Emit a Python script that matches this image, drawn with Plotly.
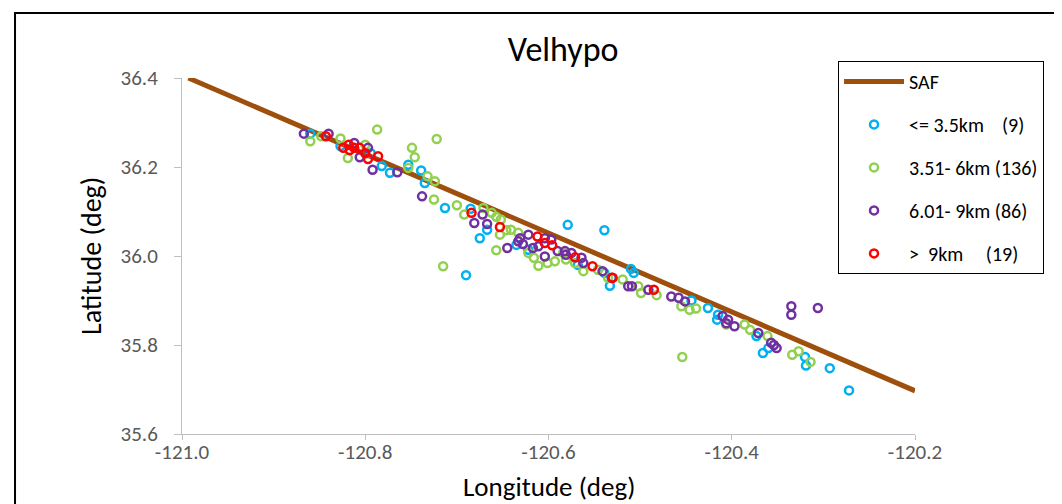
import plotly.graph_objects as go

# SAF trace (fault line)
saf_lon = [-120.993, -120.20]
saf_lat = [36.400, 35.697]

blue_lon = [-120.860, -120.827, -120.794, -120.782, -120.773, -120.753, -120.739, -120.735, -120.713,
            -120.685, -120.675, -120.667, -120.690, -120.635, -120.622, -120.579, -120.539, -120.568,
            -120.539, -120.533, -120.510, -120.507, -120.444, -120.426, -120.415, -120.416, -120.373,
            -120.360, -120.366, -120.320, -120.319, -120.293, -120.272]
blue_lat = [36.275, 36.247, 36.231, 36.202, 36.187, 36.205, 36.192, 36.164, 36.108,
            36.106, 36.040, 36.059, 35.957, 36.025, 36.014, 36.070, 36.058, 35.980,
            35.962, 35.933, 35.971, 35.962, 35.900, 35.883, 35.868, 35.857, 35.820,
            35.793, 35.782, 35.773, 35.754, 35.748, 35.698]

green_lon = [-120.860, -120.848, -120.827, -120.800, -120.819, -120.787, -120.753, -120.749, -120.746,
             -120.722, -120.732, -120.724, -120.725, -120.700, -120.692, -120.662, -120.657, -120.652,
             -120.653, -120.641, -120.633, -120.646, -120.657, -120.622, -120.616, -120.715, -120.593,
             -120.581, -120.571, -120.562, -120.546, -120.535, -120.519, -120.502, -120.499, -120.482,
             -120.455, -120.446, -120.439, -120.406, -120.386, -120.380, -120.361, -120.334, -120.327,
             -120.314, -120.454, -120.671, -120.601, -120.611, -120.584]
green_lat = [36.258, 36.269, 36.264, 36.250, 36.220, 36.284, 36.198, 36.243, 36.222,
             36.263, 36.179, 36.168, 36.127, 36.114, 36.093, 36.097, 36.088, 36.082,
             36.048, 36.059, 36.052, 36.058, 36.013, 36.007, 35.996, 35.977, 35.988,
             35.992, 35.984, 35.966, 35.969, 35.951, 35.947, 35.932, 35.917, 35.912,
             35.887, 35.879, 35.882, 35.846, 35.846, 35.834, 35.820, 35.778, 35.786,
             35.762, 35.773, 36.108, 35.984, 35.978, 36.007]

purple_lon = [-120.867, -120.840, -120.812, -120.797, -120.806, -120.792, -120.765, -120.738, -120.681,
              -120.672, -120.667, -120.645, -120.631, -120.633, -120.622, -120.617, -120.604, -120.597,
              -120.604, -120.590, -120.582, -120.581, -120.575, -120.564, -120.562, -120.541, -120.531,
              -120.513, -120.509, -120.491, -120.466, -120.458, -120.451, -120.410, -120.404, -120.406,
              -120.397, -120.371, -120.357, -120.351, -120.354, -120.335, -120.335, -120.306, -120.611,
              -120.628]
purple_lat = [36.275, 36.275, 36.254, 36.243, 36.222, 36.194, 36.188, 36.134, 36.074,
              36.093, 36.072, 36.018, 36.040, 36.033, 36.048, 36.018, 36.040, 36.037,
              35.999, 36.011, 36.011, 36.003, 36.007, 35.996, 35.984, 35.966, 35.951,
              35.932, 35.932, 35.924, 35.909, 35.906, 35.898, 35.865, 35.857, 35.849,
              35.842, 35.827, 35.805, 35.793, 35.800, 35.887, 35.868, 35.883, 36.022,
              36.027]

red_lon = [-120.843, -120.818, -120.817, -120.806, -120.812, -120.797, -120.786, -120.684, -120.653,
           -120.612, -120.604, -120.596, -120.571, -120.552, -120.530, -120.485, -120.824, -120.800]
red_lat = [36.269, 36.250, 36.238, 36.243, 36.243, 36.218, 36.224, 36.097, 36.065,
           36.044, 36.029, 36.024, 35.997, 35.977, 35.951, 35.924, 36.243, 36.231]

names = ["SAF", "<= 3.5km    (9)", "3.51- 6km (136)", "6.01- 9km (86)", ">  9km     (19)"]
colors = ["#9E4F0C", "#00B0F0", "#92D050", "#7030A0", "#FF0000"]

FONT = "Calibri, Carlito, 'Liberation Sans Narrow', 'Open Sans', sans-serif"

fig = go.Figure()
fig.add_trace(go.Scatter(x=saf_lon, y=saf_lat, mode="lines", name=names[0],
                         line=dict(color=colors[0], width=5), legendgroup="a"))
for i, (xs, ys) in enumerate([(blue_lon, blue_lat), (green_lon, green_lat),
                              (purple_lon, purple_lat), (red_lon, red_lat)]):
    fig.add_trace(go.Scatter(x=xs, y=ys, mode="markers", name=names[i + 1],
                             legendgroup="g%d" % i,
                             marker=dict(symbol="circle-open", size=8, color=colors[i + 1],
                                         line=dict(width=2.5, color=colors[i + 1]))))

axis_common = dict(showgrid=False, zeroline=False, showline=True, linecolor="#BFBFBF", linewidth=1,
                   ticks="outside", tickcolor="#BFBFBF",
                   tickfont=dict(family=FONT, size=21, color="#595959"))

fig.update_layout(
    width=1062, height=504,
    margin=dict(l=174, r=155, t=70, b=78),
    paper_bgcolor="white", plot_bgcolor="white",
    title=dict(text="Velhypo", x=0.52, xref="paper", y=0.918, yanchor="middle",
               font=dict(family=FONT, size=34, color="#000000")),
    xaxis=dict(range=[-121.0, -120.2], tickvals=[-121.0, -120.8, -120.6, -120.4, -120.2],
               ticktext=["-121.0", "-120.8", "-120.6", "-120.4", "-120.2"], ticklen=5,
               ticklabelstandoff=-6,
               **axis_common),
    yaxis=dict(range=[35.6, 36.4], tickvals=[35.6, 35.8, 36.0, 36.2, 36.4],
               ticktext=["35.6", "35.8", "36.0", "36.2", "36.4"], ticklen=7,
               ticklabelstandoff=12,
               **axis_common),
    legend=dict(x=0.895, y=1.048, xanchor="left", yanchor="top",
                bgcolor="white", bordercolor="#000000", borderwidth=1,
                font=dict(family=FONT, size=20, color="#000000"),
                traceorder="grouped", tracegroupgap=14, itemwidth=60),
    showlegend=True,
)
# axis titles
fig.add_annotation(text="Longitude (deg)", xref="paper", yref="paper", x=0.5, y=-0.148,
                   xanchor="center", yanchor="middle", showarrow=False,
                   font=dict(family=FONT, size=27, color="#000000"))
fig.add_annotation(text="Latitude (deg)", xref="paper", yref="paper", x=-0.124, y=0.5,
                   xanchor="center", yanchor="middle", textangle=-90, showarrow=False,
                   font=dict(family=FONT, size=28, color="#000000"))
fig.add_shape(type="rect", xref="paper", yref="paper", x0=-0.2278, x1=1.2074, y0=-0.35, y1=1.1826,
              line=dict(color="black", width=2), fillcolor="rgba(0,0,0,0)", layer="below")

fig.write_html("out.html")
